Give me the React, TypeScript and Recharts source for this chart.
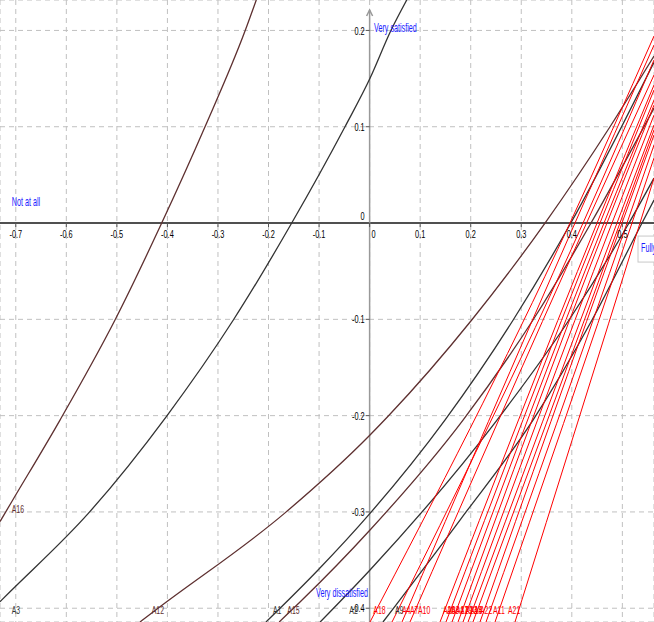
import React from 'react';
import { ComposedChart, Line, XAxis, YAxis, CartesianGrid, ReferenceLine, ReferenceDot } from 'recharts';

const W = 654;
const H = 622;
const X_DOMAIN: [number, number] = [-0.7312, 0.5626];
const Y_DOMAIN: [number, number] = [-0.4143, 0.2316];

const xTicks = [-0.7, -0.6, -0.5, -0.4, -0.3, -0.2, -0.1, 0, 0.1, 0.2, 0.3, 0.4, 0.5];
const yTicks = [-0.4, -0.3, -0.2, -0.1, 0, 0.1, 0.2];

const BLACK = '#333333';
const BROWN = '#5e3030';
const RED = '#ff0000';
const BLUE = '#1a1aff';
const FONT = '"Liberation Sans", Arial, sans-serif';

// curves: [x, y]
const A16 = [[-0.7312, -0.31], [-0.708, -0.2894], [-0.6125, -0.2046], [-0.5037, -0.1007], [-0.4113, 0], [-0.3256, 0.1], [-0.2465, 0.1994], [-0.2242, 0.2316]];
const A3 = [[-0.7312, -0.3932], [-0.7114, -0.3829], [-0.5565, -0.3015], [-0.4014, -0.2004], [-0.2696, -0.1007], [-0.1541, 0], [-0.0487, 0.1], [0.0008, 0.1503], [0.0417, 0.1994], [0.0735, 0.2316]];
const A12 = [[-0.4542, -0.4143], [-0.4212, -0.4011], [-0.1685, -0.3015], [0.0008, -0.2201], [0.037, -0.2004], [0.202, -0.1007], [0.347, 0], [0.4756, 0.1], [0.5626, 0.1734]];
const A1 = [[-0.205, -0.4143], [-0.102, -0.3603], [0.0008, -0.3015], [0.149, -0.2046], [0.284, -0.1007], [0.398, 0], [0.5626, 0.167]];
const A15 = [[-0.179, -0.4143], [-0.1377, -0.3936], [0.0008, -0.3188], [0.1848, -0.2046], [0.3232, -0.1007], [0.438, 0], [0.5626, 0.1194]];
const A2 = [[-0.0978, -0.4143], [0.0008, -0.3603], [0.252, -0.2046], [0.3945, -0.1007], [0.5131, 0], [0.5626, 0.0467]];
const A9 = [[0.0265, -0.4143], [0.1788, -0.3084], [0.3232, -0.2046], [0.44, -0.1007], [0.5389, 0], [0.5626, 0.0239]];
const A18 = [[0.0008, -0.4143], [0.3964, 0], [0.5626, 0.1942]];
const A4 = [[0.0443, -0.4143], [0.4222, 0], [0.5626, 0.1693]];
const A7 = [[0.0641, -0.4143], [0.4063, 0], [0.5626, 0.1848]];
const A10 = [[0.0799, -0.4143], [0.4292, 0], [0.5626, 0.1537]];
const A20 = [[0.1393, -0.4143], [0.4499, 0], [0.5626, 0.1433]];
const A6 = [[0.1511, -0.4143], [0.4558, 0], [0.5626, 0.1381]];
const A8 = [[0.163, -0.4143], [0.4637, 0], [0.5626, 0.1277]];
const A17 = [[0.1749, -0.4143], [0.4696, 0], [0.5626, 0.1225]];
const A19 = [[0.1848, -0.4143], [0.4795, 0], [0.5626, 0.1121]];
const A13 = [[0.1947, -0.4143], [0.4894, 0], [0.5626, 0.1018]];
const A14 = [[0.2045, -0.4143], [0.4953, 0], [0.5626, 0.0966]];
const A22 = [[0.2184, -0.4143], [0.4993, 0], [0.5626, 0.0914]];
const A5 = [[0.2303, -0.4143], [0.5092, 0], [0.5626, 0.081]];
const A11 = [[0.2481, -0.4143], [0.5191, 0], [0.5626, 0.0675]];
const A21 = [[0.2876, -0.4143], [0.5349, 0], [0.5626, 0.0467]];

const curves = [
  { name: 'A16', pts: A16, color: BROWN },
  { name: 'A3', pts: A3, color: BLACK },
  { name: 'A12', pts: A12, color: BROWN },
  { name: 'A1', pts: A1, color: BLACK },
  { name: 'A15', pts: A15, color: BROWN },
  { name: 'A2', pts: A2, color: BLACK },
  { name: 'A9', pts: A9, color: BLACK },
  { name: 'A18', pts: A18, color: RED },
  { name: 'A4', pts: A4, color: RED },
  { name: 'A7', pts: A7, color: RED },
  { name: 'A10', pts: A10, color: RED },
  { name: 'A20', pts: A20, color: RED },
  { name: 'A6', pts: A6, color: RED },
  { name: 'A8', pts: A8, color: RED },
  { name: 'A17', pts: A17, color: RED },
  { name: 'A19', pts: A19, color: RED },
  { name: 'A13', pts: A13, color: RED },
  { name: 'A14', pts: A14, color: RED },
  { name: 'A22', pts: A22, color: RED },
  { name: 'A5', pts: A5, color: RED },
  { name: 'A11', pts: A11, color: RED },
  { name: 'A21', pts: A21, color: RED },
];

// label anchors (data units)
const curveLabels = [
  { name: 'A16', x: -0.708, y: -0.297 },
  { name: 'A3', x: -0.708, y: -0.4014 },
  { name: 'A12', x: -0.431, y: -0.4014 },
  { name: 'A1', x: -0.1911, y: -0.4014 },
  { name: 'A15', x: -0.1628, y: -0.4014 },
  { name: 'A2', x: -0.0402, y: -0.4014 },
  { name: 'A18', x: 0.0073, y: -0.4014 },
  { name: 'A9', x: 0.0502, y: -0.4014 },
  { name: 'A4', x: 0.0641, y: -0.4014 },
  { name: 'A7', x: 0.0799, y: -0.4014 },
  { name: 'A10', x: 0.0957, y: -0.4014 },
  { name: 'A20', x: 0.1452, y: -0.4014 },
  { name: 'A6', x: 0.1531, y: -0.4014 },
  { name: 'A8', x: 0.161, y: -0.4014 },
  { name: 'A17', x: 0.1709, y: -0.4014 },
  { name: 'A19', x: 0.1788, y: -0.4014 },
  { name: 'A13', x: 0.1887, y: -0.4014 },
  { name: 'A14', x: 0.1986, y: -0.4014 },
  { name: 'A5', x: 0.2065, y: -0.4014 },
  { name: 'A22', x: 0.2184, y: -0.4014 },
  { name: 'A11', x: 0.2441, y: -0.4014 },
  { name: 'A21', x: 0.2738, y: -0.4014 },
];

const textNotes = [
  { text: 'Very satisfied', x: 0.0087, y: 0.2025 },
  { text: 'Not at all', x: -0.708, y: 0.0218 },
  { text: 'Very dissatisfied', x: -0.106, y: -0.3842 },
];
const boxNote = { text: 'Fully satisfied', x: 0.5369, y: -0.026 };

const colorOf = (name: string) => curves.find((c) => c.name === name)?.color ?? BLACK;

const txt = (text: string, color: string, size: number, anchor: string, dx: number, dy: number, sx: number) =>
  (p: any) => (
    <text
      transform={`translate(${p.cx + dx},${p.cy + dy}) scale(${sx},1)`}
      fill={color}
      fontSize={size}
      fontFamily={FONT}
      textAnchor={anchor}
      dominantBaseline="central"
    >
      {text}
    </text>
  );

const xTickShape = (t: number) => (p: any) => (
  <g>
    <line x1={p.cx} x2={p.cx} y1={p.cy} y2={p.cy + 4} stroke="#555" strokeWidth={1} />
    <text
      transform={`translate(${p.cx + (t === 0 ? 4 : 0)},${p.cy + 11}) scale(0.64,1)`}
      fill="#000"
      fontSize={11.5}
      fontFamily={FONT}
      textAnchor="middle"
      dominantBaseline="central"
    >
      {String(t)}
    </text>
  </g>
);

const yTickShape = (t: number) => (p: any) => (
  <g>
    <line x1={p.cx - 4} x2={p.cx} y1={p.cy} y2={p.cy} stroke="#555" strokeWidth={1} />
    <text
      transform={`translate(${p.cx - 5},${p.cy + (t === 0 ? -7 : 0)}) scale(0.64,1)`}
      fill="#000"
      fontSize={11.5}
      fontFamily={FONT}
      textAnchor="end"
      dominantBaseline="central"
    >
      {String(t)}
    </text>
  </g>
);

const boxShape = (p: any) => (
  <g>
    <rect x={p.cx - 3} y={p.cy - 12} width={80} height={26} fill="#fff" stroke="#c8c8c8" strokeWidth={1} />
    <text
      transform={`translate(${p.cx},${p.cy}) scale(0.6,1)`}
      fill={BLUE}
      fontSize={12}
      fontFamily={FONT}
      textAnchor="start"
      dominantBaseline="central"
    >
      {boxNote.text}
    </text>
  </g>
);

const arrowShape = (p: any) => (
  <path d={`M${p.cx - 3},${p.cy + 6} L${p.cx},${p.cy} L${p.cx + 3},${p.cy + 6}`} fill="none" stroke="#999" strokeWidth={1.5} />
);

export default function App() {
  return (
    <div style={{ position: 'absolute', left: 0, top: 0, width: W, height: H, background: '#fff' }}>
      <ComposedChart width={W} height={H} margin={{ top: 0, right: 0, bottom: 0, left: 0 }}>
        <XAxis type="number" dataKey="x" domain={X_DOMAIN} ticks={xTicks} allowDataOverflow hide />
        <YAxis type="number" dataKey="y" domain={Y_DOMAIN} ticks={yTicks} allowDataOverflow hide />
        <CartesianGrid stroke="#c0c0c0" strokeDasharray="5 4" />
        <ReferenceLine y={0} stroke="#505050" strokeWidth={2} />
        <ReferenceLine segment={[{ x: 0, y: -0.4143 }, { x: 0, y: 0.2212 }]} stroke="#999" strokeWidth={1.5} />
        <ReferenceDot x={0} y={0.2212} r={1} shape={arrowShape} />
        {xTicks.map((t) => (
          <ReferenceDot key={`xt${t}`} x={t} y={0} r={1} shape={xTickShape(t)} />
        ))}
        {yTicks.map((t) => (
          <ReferenceDot key={`yt${t}`} x={0} y={t} r={1} shape={yTickShape(t)} />
        ))}
        {curves.map((c) => (
          <Line
            key={c.name}
            data={c.pts.map(([x, y]) => ({ x, y }))}
            dataKey="y"
            type="monotone"
            stroke={c.color}
            strokeWidth={c.color === RED ? 1 : 1.3}
            dot={false}
            activeDot={false}
            isAnimationActive={false}
          />
        ))}
        {curveLabels.map((l) => (
          <ReferenceDot key={`lb${l.name}`} x={l.x} y={l.y} r={1} shape={txt(l.name, colorOf(l.name), 11.5, 'start', 0, 0, 0.6)} />
        ))}
        {textNotes.map((n) => (
          <ReferenceDot key={n.text} x={n.x} y={n.y} r={1} shape={txt(n.text, BLUE, 12, 'start', 0, 0, 0.6)} />
        ))}
        <ReferenceDot x={boxNote.x} y={boxNote.y} r={1} shape={boxShape} />
      </ComposedChart>
    </div>
  );
}
